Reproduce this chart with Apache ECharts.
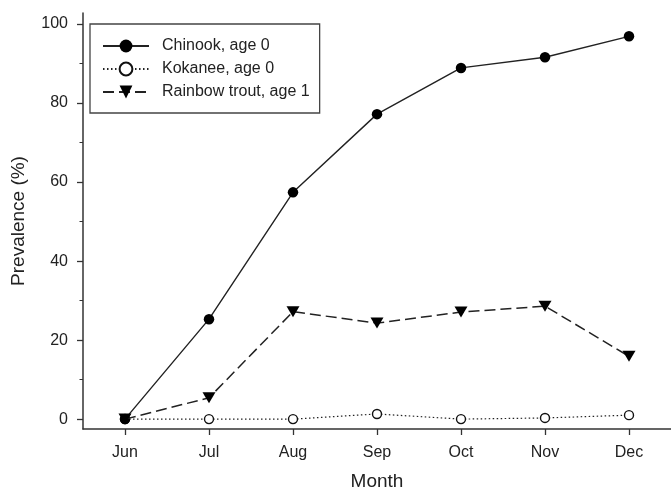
<!DOCTYPE html>
<html>
<head>
<meta charset="utf-8">
<script src="https://cdn.jsdelivr.net/npm/echarts@6/dist/echarts.min.js"></script>
<style>
  html, body { margin: 0; padding: 0; background: #fff; }
  #chart { width: 671px; height: 500px; }
</style>
</head>
<body>
<div id="chart"></div>
<script>
// Monthly prevalence by species
const months = ['Jun', 'Jul', 'Aug', 'Sep', 'Oct', 'Nov', 'Dec'];
const chinook = [0, 25.3, 57.4, 77.2, 88.9, 91.6, 96.9];
const kokanee = [0, 0, 0, 1.3, 0, 0.3, 1.0];
const rainbow = [0, 5.4, 27.2, 24.3, 27.1, 28.6, 15.9];
const yMajorTicks = [0, 20, 40, 60, 80, 100];
const yMinorTicks = [10, 30, 50, 70, 90];

const monthIdx = months.map((_, i) => i);
const pairs = arr => arr.map((v, i) => [i, v]);

const ink = '#222';
const axisInk = '#333';
const font = 'Liberation Sans, Arial, sans-serif';
const yMin = -2.5, yMax = 102.8;

const chart = echarts.init(document.getElementById('chart'));
chart.setOption({
  animation: false,
  backgroundColor: '#fff',
  grid: { left: 83, right: 0, top: 13, bottom: 71 },
  legend: {
    orient: 'vertical',
    left: 90,
    top: 24,
    itemWidth: 46,
    itemHeight: 16,
    itemGap: 7,
    padding: [14, 10, 13, 12],
    borderColor: '#444',
    borderWidth: 1.3,
    textStyle: { fontFamily: font, fontSize: 16, color: '#222', padding: [0, 0, 0, 8] },
    data: ['Chinook, age 0', 'Kokanee, age 0', 'Rainbow trout, age 1']
  },
  xAxis: {
    type: 'value',
    min: -0.5,
    max: 6.5,
    name: 'Month',
    nameLocation: 'middle',
    nameGap: 43,
    nameTextStyle: { fontFamily: font, fontSize: 19, color: '#222' },
    axisLine: { show: true, onZero: false, lineStyle: { color: axisInk, width: 1.5 } },
    axisTick: { show: true, inside: false, length: 6, customValues: monthIdx, lineStyle: { color: axisInk, width: 1.3 } },
    axisLabel: {
      customValues: monthIdx,
      formatter: v => months[Math.round(v)] || '',
      fontFamily: font, fontSize: 16, color: '#222', margin: 16
    },
    splitLine: { show: false }
  },
  yAxis: [{
    type: 'value',
    min: yMin,
    max: yMax,
    name: 'Prevalence (%)',
    nameLocation: 'middle',
    nameGap: 55,
    nameTextStyle: { fontFamily: font, fontSize: 19, color: '#222' },
    axisLine: { show: true, onZero: false, lineStyle: { color: axisInk, width: 1.5 } },
    axisTick: { show: true, inside: false, length: 6, customValues: yMajorTicks, lineStyle: { color: axisInk, width: 1.3 } },
    axisLabel: { customValues: yMajorTicks, fontFamily: font, fontSize: 16, color: '#222', margin: 15 },
    splitLine: { show: false }
  }, {
    type: 'value',
    position: 'left',
    min: yMin,
    max: yMax,
    axisLine: { show: false, onZero: false },
    axisTick: { show: true, inside: false, length: 3.5, customValues: yMinorTicks, lineStyle: { color: axisInk, width: 1 } },
    axisLabel: { show: false },
    splitLine: { show: false }
  }],
  series: [{
    name: 'Chinook, age 0',
    type: 'line',
    data: pairs(chinook),
    symbol: 'circle',
    symbolSize: 10.5,
    lineStyle: { color: ink, width: 1.4, type: 'solid' },
    itemStyle: { color: '#000' },
    z: 3
  }, {
    name: 'Kokanee, age 0',
    type: 'line',
    data: pairs(kokanee),
    symbol: 'circle',
    symbolSize: 9,
    lineStyle: { color: ink, width: 1.2, type: [1.5, 2.5] },
    itemStyle: { color: '#fff', borderColor: '#111', borderWidth: 1.4 },
    z: 2
  }, {
    name: 'Rainbow trout, age 1',
    type: 'line',
    data: pairs(rainbow),
    symbol: 'path://M0,0 L12,0 L6,11 Z',
    symbolSize: [13, 11],
    lineStyle: { color: ink, width: 1.5, type: [11, 5] },
    itemStyle: { color: '#000' },
    z: 4
  }]
});
</script>
</body>
</html>
